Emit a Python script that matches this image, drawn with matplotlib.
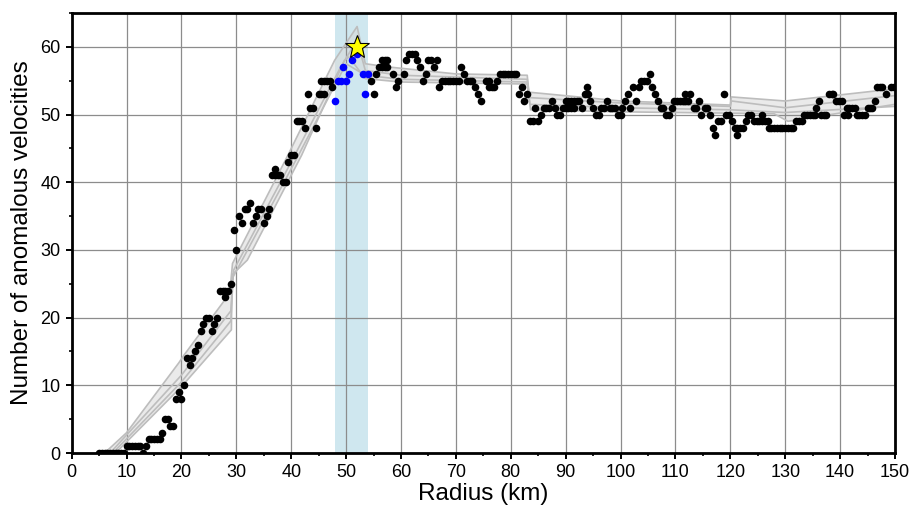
import matplotlib
matplotlib.use("Agg")
import matplotlib.pyplot as plt
import numpy as np

plt.rcParams['font.family'] = ['Liberation Sans', 'DejaVu Sans']

# ---- black points (radius km, count) ----
rA = [5, 5.5, 6, 6.5, 7, 7.5, 8, 8.5, 9, 9.5, 10, 10.5, 11, 11.5, 12, 12.5, 13, 13.5,
      14, 14.5, 15, 15.5, 16, 16.5, 17, 17.5, 18, 18.5, 19, 19.5, 20, 20.5,
      21, 21.5, 22, 22.5, 23, 23.5, 24, 24.5, 25, 25.5, 26, 26.5,
      27, 27.5, 28, 28, 28.5, 29, 29.5, 30]
nA = [0, 0, 0, 0, 0, 0, 0, 0, 0, 0, 1, 1, 1, 1, 1, 1, 0, 1,
      2, 2, 2, 2, 2, 3, 5, 5, 4, 4, 8, 9, 8, 10,
      14, 13, 14, 15, 16, 18, 19, 20, 20, 18, 19, 20,
      24, 24, 24, 23, 24, 25, 33, 30]

rB = [30.5, 31, 31.5, 32, 32.5, 33, 33.5, 34, 34.5, 35, 35.5, 36,
      36.5, 37, 37, 37.5, 38, 38.5, 39, 39.5, 40, 40.5, 41, 41.5, 42,
      42.5, 43, 43.5, 44, 44.5, 45, 45.5, 46, 45.5, 46, 46.5, 47, 47.5]
nB = [35, 34, 36, 36, 37, 34, 35, 36, 36, 34, 35, 36,
      41, 41, 42, 41, 41, 40, 40, 43, 44, 44, 49, 49, 49,
      48, 53, 51, 51, 48, 53, 53, 53, 55, 55, 55, 55, 54]

rC = [54.5, 55, 55.5, 56, 56.5, 57, 57.5, 56.5, 57, 57.5,
      58.5, 59, 59.5, 60.5, 61, 61.5, 62, 62.5, 63, 63.5, 64, 64.5,
      65, 65.5, 66, 66.5, 67, 67.5, 68, 68.5, 69, 69.5, 70, 70.5,
      71, 71.5, 72, 72.5, 73, 73.5, 74, 74.5, 75.5, 76, 76, 76.5, 77, 77.5,
      78, 78.5, 79, 79.5, 80, 80.5, 81, 81.5, 82, 82.5, 83]
nC = [55, 53, 56, 57, 57, 57, 57, 58, 58, 58,
      56, 54, 55, 56, 58, 59, 59, 59, 58, 57, 55, 56,
      58, 58, 57, 58, 54, 55, 55, 55, 55, 55, 55, 55,
      57, 56, 55, 55, 55, 54, 53, 52, 55, 55, 54, 54, 54, 55,
      56, 56, 56, 56, 56, 56, 56, 53, 54, 52, 53]

rD = [83.5, 84, 84.5, 85, 85.5, 86, 86.5, 87, 87.5, 88, 88.5, 89, 89.5,
      90, 90.5, 91, 91.5, 90, 90.5, 91, 91.5, 92, 92.5,
      93, 93.5, 93.8, 94, 94.5, 95, 95.5, 96, 96.5, 97, 97.5, 98, 98.5, 99, 99.5, 100,
      100.3, 100.8, 101.3, 101.8, 102.3, 102.8, 103.3,
      103.8, 104.3, 104.8, 105.3, 105.8, 106.3, 106.8,
      107.3, 107.8, 108.3, 108.8, 109.3]
nD = [49, 49, 51, 49, 50, 51, 51, 51, 52, 51, 50, 50, 51,
      51, 51, 51, 51, 52, 52, 52, 52, 52, 52,
      51, 53, 54, 53, 52, 51, 50, 50, 51, 51, 52, 51, 51, 51, 50, 50,
      51, 52, 53, 51, 54, 52, 54,
      55, 55, 55, 56, 54, 53, 52,
      51, 51, 50, 50, 51]

rE = [109.8, 110.3, 110.8, 111.3, 111.8, 111.8, 112.3, 112.7, 113.3, 113.8, 114.3, 114.7,
      115.3, 115.8, 116.3, 116.8, 117.3, 117.8, 118.3, 118.8,
      119.3, 119.8, 120.3, 120.8, 121.2, 121.3, 121.8, 122.3,
      122.8, 123.2, 123.8, 124.3, 124.8, 125.3, 125.7, 125.8, 126.3, 126.8,
      127, 127.5, 128, 128.5, 129, 129.5, 130, 130.5, 131, 131.5,
      132, 132.5, 133, 133.5, 134, 134.5, 135, 135.5, 135.7, 136.2,
      136.5, 137, 137.5, 138, 138.5, 138.8, 139.3, 139.8, 140.3,
      140.7, 141.2, 141.5, 141.7, 142.2, 142.8, 143, 143.5, 144, 144.5,
      145, 145.5, 145.9, 146.3, 146.7, 147.2, 147.7, 148.3, 149.3, 149.8]
nE = [52, 52, 52, 52, 52, 53, 52, 53, 51, 51, 52, 50,
      51, 51, 50, 48, 47, 49, 49, 53,
      50, 50, 49, 48, 47, 48, 48, 48,
      49, 50, 50, 49, 49, 49, 50, 49, 49, 49,
      48, 48, 48, 48, 48, 48, 48, 48, 48, 48,
      49, 49, 49, 50, 50, 50, 50, 50, 51, 52,
      50, 50, 50, 53, 53, 53, 52, 52, 52,
      50, 51, 50, 51, 51, 51, 50, 50, 50, 50,
      51, 51, 51, 52, 54, 54, 54, 53, 54, 54]

# ---- blue points inside the highlighted window ----
r_blue = [48, 48.5, 49, 49.5, 50, 50.5, 51, 52, 53, 53.5, 54]
n_blue = [52, 55, 55, 57, 55, 56, 58, 59, 56, 53, 56]

# ---- best radius (star) and window ----
star_r, star_n = 52, 60
win_lo, win_hi = 48, 54

# ---- gray envelope lines ----
up_x = [6, 10, 19.5, 20.5, 28.8, 29.3, 39.4, 47.9, 52, 53.5, 58, 70, 83, 83.3, 100, 120, 120.2, 130, 150]
up_y = [0, 3, 13.3, 14.5, 23.6, 28, 44, 58, 63, 57.5, 57, 56, 55.8, 53.3, 52, 51.4, 52.6, 52, 53.8]
lo_x = [8, 20, 29.1, 29.2, 32, 41.9, 49.7, 50.5, 53.5, 60, 83, 83.6, 100, 120, 128, 130.5, 150]
lo_y = [0, 9.8, 18.2, 26.3, 28.5, 44, 58, 58.5, 55.3, 54.8, 54.5, 50.7, 50.4, 50.2, 50.1, 49.0, 51.5]
m1_x = [7, 20, 29, 29.5, 40, 49, 52, 53.5, 60, 83, 83.4, 100, 120, 120.2, 130, 150]
m1_y = [0, 11.5, 21, 27, 43, 57, 61, 56.5, 55.8, 55.2, 52.5, 51.7, 51.2, 52, 51, 52.8]
m2_x = [7.5, 20, 29, 29.4, 41, 50, 53.5, 60, 83, 83.5, 100, 120, 130, 150]
m2_y = [0, 10.5, 19.5, 26, 43.5, 57.5, 55.8, 55.2, 54.8, 51.5, 51, 50.7, 50.3, 51.2]

black_r = rA + rB + rC + rD + rE
black_n = nA + nB + nC + nD + nE

fig = plt.figure(figsize=(9.11, 5.11), dpi=100)
ax = fig.add_axes([0.0787, 0.1135, 0.9037, 0.8611])

ax.axvspan(win_lo, win_hi, color='#cfe7ef', zorder=0.1, lw=0)

poly_x = up_x + lo_x[::-1]
poly_y = up_y + lo_y[::-1]
ax.fill(poly_x, poly_y, color='#d9d9d9', alpha=0.55, lw=0, zorder=0.3)
for xs, ys in [(up_x, up_y), (lo_x, lo_y), (m1_x, m1_y), (m2_x, m2_y)]:
    ax.plot(xs, ys, color='#bdbdbd', lw=1.2, zorder=1)

ax.scatter(black_r, black_n, s=30, color='black', lw=0, zorder=3)
ax.scatter(r_blue, n_blue, s=30, color='#0000ff', lw=0, zorder=3)
ax.plot([star_r], [star_n], marker='*', ms=18, mfc='#ffff00', mec='black', mew=0.8,
        ls='none', zorder=4)

ax.set_xlim(0, 150)
ax.set_ylim(0, 65)
ax.set_xticks(np.arange(0, 151, 10))
ax.set_yticks(np.arange(0, 61, 10))
ax.set_xticks(np.arange(0, 151, 5), minor=True)
ax.set_yticks(np.arange(0, 66, 5), minor=True)
ax.grid(True, which='major', color='#8c8c8c', lw=0.9, zorder=0.5)
ax.set_axisbelow(True)
ax.tick_params(which='major', direction='out', length=4.5, width=1.4, labelsize=13, color='black')
ax.tick_params(which='minor', direction='out', length=2.5, width=1.2)
for s in ax.spines.values():
    s.set_linewidth(2.0)
    s.set_zorder(5)

ax.set_xlabel('Radius (km)', fontsize=17.5, labelpad=1)
ax.set_ylabel('Number of anomalous velocities', fontsize=17.5, labelpad=5)

fig.savefig('out.png', dpi=100)
